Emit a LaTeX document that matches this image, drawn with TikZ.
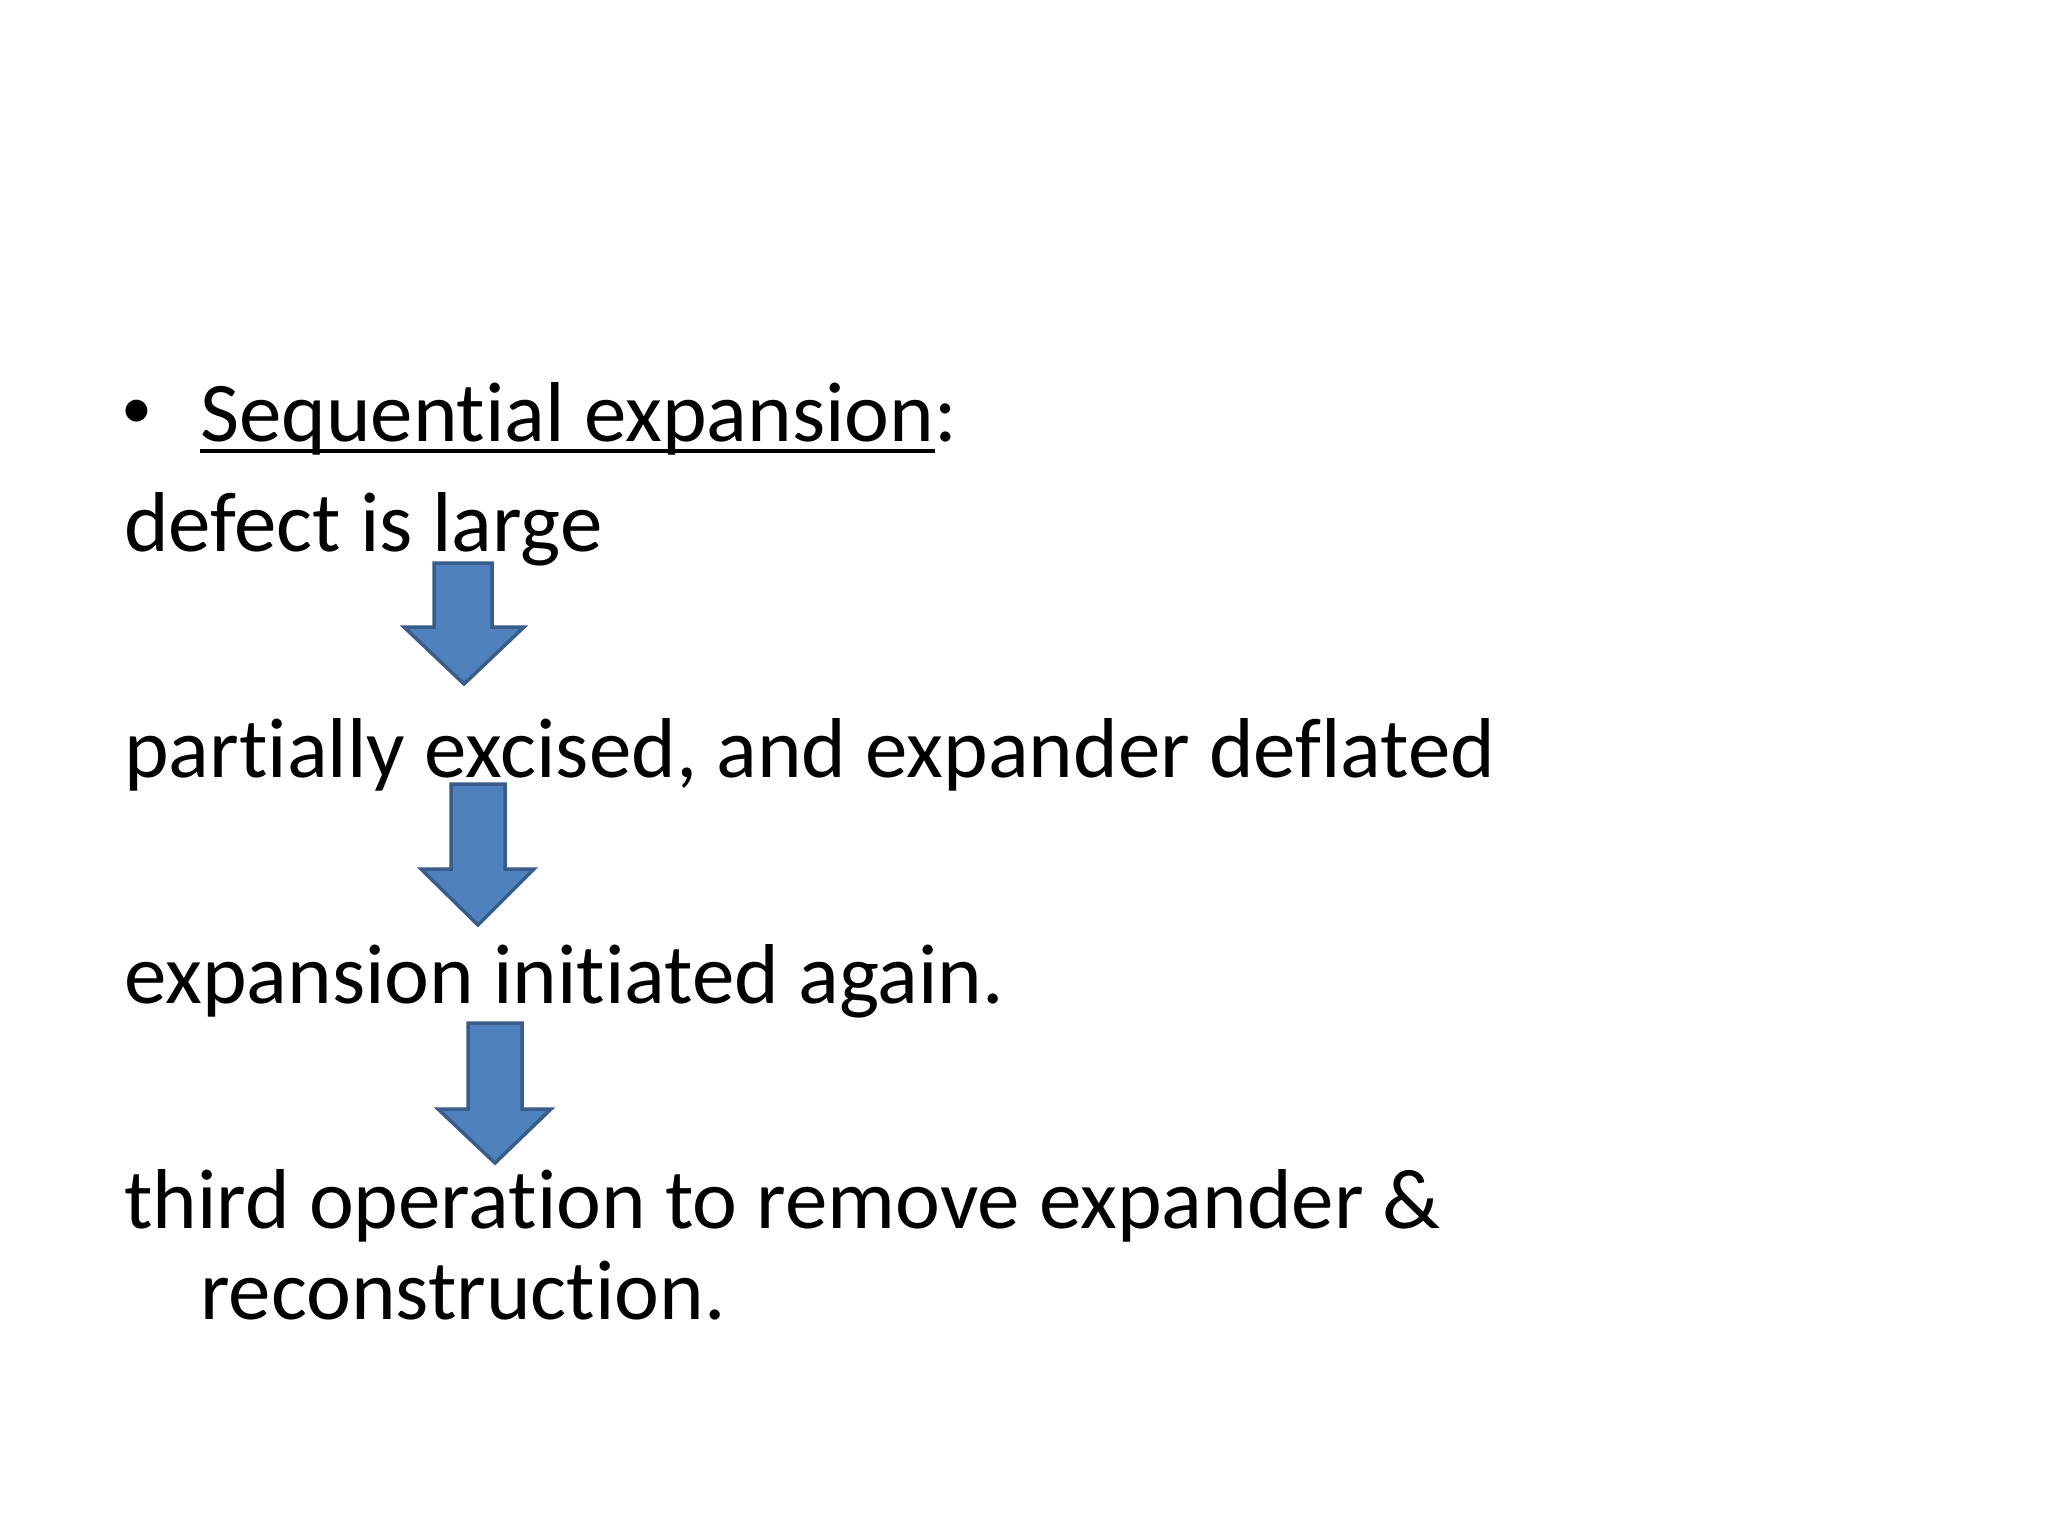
\documentclass[tikz,border=0pt]{standalone}
\usepackage{fontspec}
\setmainfont{Carlito}[RawFeature={-liga}]
\definecolor{arrfill}{HTML}{4F81BD}
\definecolor{arrdraw}{HTML}{385D8A}
\tikzset{
  txt/.style={anchor=base west, inner sep=0pt, font=\fontsize{85}{102}\selectfont},
  downarrow/.style={fill=arrfill, draw=arrdraw, line width=3.5pt, line join=miter}
}
\begin{document}
\begin{tikzpicture}[x=1pt,y=-1pt]
\useasboundingbox[fill=white] (0,0) rectangle (2048,1536);
\node[inner sep=0pt, font=\fontsize{62}{70}\selectfont] (bul) at (137,414) {•};
\node[txt] (seq) at (200,441) {Sequential expansion};
\node[txt] (colon) at (seq.base east) {:};
\draw[line width=4pt] ([yshift=-10pt]seq.base west) -- ([yshift=-10pt]seq.base east);
\node[txt] (l1) at (124,551) {defect is large};
\node[txt] (l2) at (124,777) {partially excised, and expander deflated};
\node[txt] (l3) at (124,1003) {expansion initiated again.};
\node[txt] (l4) at (124,1228) {third operation to remove expander \&};
\node[txt] (l5) at (200,1319) {reconstruction.};
% arrows
\draw[downarrow] (434,563) -- (492,563) -- (492,627) -- (524,627) -- (464,684) -- (404,627) -- (434,627) -- cycle;
\draw[downarrow] (451,784) -- (505,784) -- (505,869) -- (534,869) -- (478,925) -- (421,869) -- (451,869) -- cycle;
\draw[downarrow] (468,1023) -- (522,1023) -- (522,1109) -- (551,1109) -- (495,1163) -- (438,1109) -- (468,1109) -- cycle;
\end{tikzpicture}
\end{document}
